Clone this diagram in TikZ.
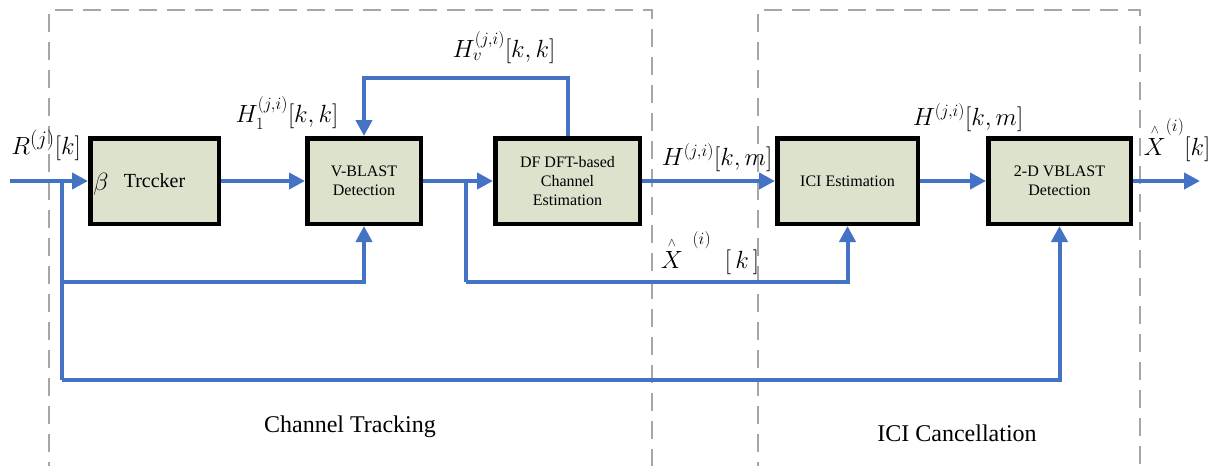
\documentclass[tikz,border=0pt]{standalone}
\usepackage{amsmath}
\usepackage{fontspec}
\setmainfont{Liberation Serif}
\usetikzlibrary{arrows.meta}
\definecolor{lblue}{RGB}{68,114,196}
\definecolor{bfill}{RGB}{221,226,205}
\definecolor{dgray}{RGB}{166,166,166}
\newcommand{\xhat}{\overset{\scriptscriptstyle\wedge}{X}}
\begin{document}
\begin{tikzpicture}[x=1pt,y=-1pt,
  blk/.style={draw=black,line width=4.5pt,fill=bfill,inner sep=0pt,
    minimum height=85.5pt,align=center,font=\fontsize{16}{19}\selectfont},
  sig/.style={draw=lblue,line width=4pt},
  arr/.style={sig,-{Triangle[length=16pt,width=16pt]}},
  dbox/.style={draw=dgray,line width=2.7pt,dash pattern=on 18pt off 10pt},
  mlab/.style={inner sep=0pt,font=\fontsize{26}{30}\selectfont},
  xlab/.style={inner sep=0pt,font=\fontsize{24}{28}\selectfont},
  captxt/.style={inner sep=0pt,font=\fontsize{24}{28}\selectfont}]
\useasboundingbox (0,0) rectangle (1224,466);
\clip (0,0) rectangle (1224,466);
% dashed frames
\draw[dbox] (49,480) -- (49,10) -- (652,10) -- (652,480);
\draw[dbox] (758,480) -- (758,10) -- (1140,10) -- (1140,480);
% blocks
\node[blk,minimum width=128.5pt,font=\fontsize{20}{24}\selectfont] (trk) at (154.5,181) {Trccker};
\node[blk,minimum width=113.5pt] (vb) at (364,181) {V-BLAST\\Detection};
\node[blk,minimum width=144.5pt] (df) at (567.5,181) {DF DFT-based\\Channel\\Estimation};
\node[blk,minimum width=140.5pt] (ici) at (847.5,181) {ICI Estimation};
\node[blk,minimum width=142.5pt] (vd) at (1059.5,181) {2-D VBLAST\\Detection};
\node[inner sep=0pt,font=\fontsize{27}{30}\selectfont] (beta) at (101,184) {$\beta$};
% coordinates
\coordinate (in) at (10,181);
\coordinate (out) at (1200,181);
\coordinate (b1) at (62,181);
\coordinate (b1a) at (62,282);
\coordinate (b1b) at (62,380);
\coordinate (b2) at (466,181);
\coordinate (b2a) at (466,282);
\coordinate (fb) at (364,78);
% connectors
\draw[arr] (in) -- (trk.west);
\draw[arr] (trk.east) -- (vb.west);
\draw[arr] (vb.east) -- (df.west);
\draw[arr] (df.east) -- (ici.west);
\draw[arr] (ici.east) -- (vd.west);
\draw[arr] (vd.east) -- (out);
\draw[sig] (b1) -- (b1b);
\draw[arr] (b1a) -| (vb.south);
\draw[arr] (b1b) -| (vd.south);
\draw[sig] (b2) -- (b2a);
\draw[arr] (b2a) -| (ici.south);
\draw[arr] (df.north) |- (fb) -- (vb.north);
% labels
\node[mlab,font=\fontsize{28}{32}\selectfont] (lr) at (46,145) {$R^{(j)}[k]$};
\node[mlab] (lh1) at (287,113) {$H_1^{(j,i)}[k,k]$};
\node[mlab] (lhv) at (504,48) {$H_v^{(j,i)}[k,k]$};
\node[mlab] (lhm1) at (717,158) {$H^{(j,i)}[k,m]$};
\node[xlab] (lx1) at (710,253) {$\xhat^{\;\;(i)}\;\;[\,k\,]$};
\node[mlab] (lhm2) at (968,118) {$H^{(j,i)}[k,m]$};
\node[xlab,font=\fontsize{23}{27}\selectfont] (lx2) at (1177,140) {$\xhat^{(i)}[k]$};
\node[captxt] (ct) at (350,427) {Channel Tracking};
\node[captxt] (cc) at (957,433) {ICI Cancellation};
\end{tikzpicture}
\end{document}
